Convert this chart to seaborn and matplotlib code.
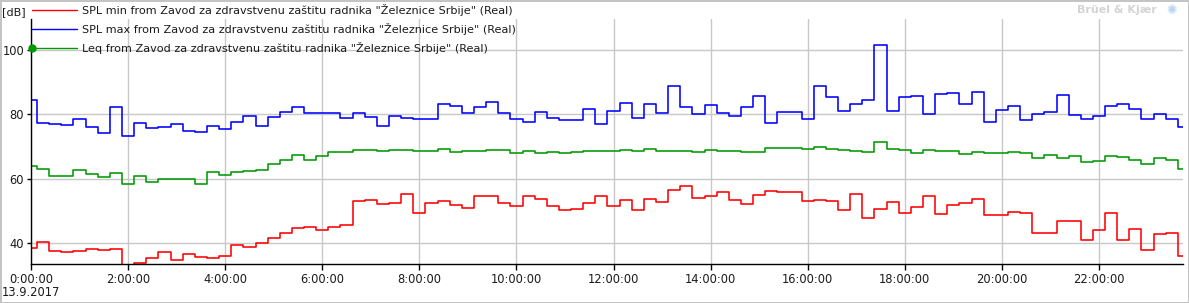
import numpy as np
import pandas as pd
import matplotlib
matplotlib.use("Agg")
import matplotlib.pyplot as plt
from matplotlib.lines import Line2D
from matplotlib.legend_handler import HandlerLine2D
import seaborn as sns

# ---------------- data (15-minute intervals, centred on the quarter hours) ----------------
hours = [i * 0.25 for i in range(96)]

spl_min = [38.5, 40.3, 37.5, 37.2, 37.5, 38.1, 37.8, 38.2, 32.0, 33.9,
           35.4, 37.2, 34.8, 36.6, 35.7, 35.4, 36.0, 39.4, 38.8, 40.0,
           41.8, 43.1, 44.9, 45.2, 44.3, 45.2, 45.8, 53.0, 53.4, 52.3,
           52.6, 55.4, 49.5, 52.6, 53.2, 52.0, 51.1, 54.6, 54.6, 52.6,
           51.7, 54.6, 53.9, 51.5, 50.5, 50.8, 52.6, 54.8, 51.5, 53.5,
           50.2, 53.9, 52.9, 56.6, 57.9, 54.2, 54.8, 56.0, 53.5, 52.3,
           55.1, 56.3, 55.8, 56.0, 53.2, 53.5, 53.2, 50.2, 55.4, 48.0,
           50.8, 52.9, 49.5, 51.4, 54.8, 49.2, 52.0, 52.6, 53.9, 48.9,
           48.9, 49.8, 49.5, 43.1, 43.1, 46.8, 46.8, 41.2, 44.3, 49.5,
           41.2, 44.6, 37.8, 42.8, 43.1, 36.0]

spl_max = [84.6, 77.2, 76.9, 76.6, 78.5, 76.0, 74.3, 82.2, 73.2, 77.2,
           75.7, 76.0, 76.9, 74.9, 74.5, 76.3, 75.4, 77.8, 79.4, 76.3,
           79.1, 80.6, 82.2, 80.3, 80.3, 80.3, 78.8, 80.3, 79.1, 76.3,
           79.4, 78.8, 78.5, 78.5, 83.1, 82.5, 80.3, 82.2, 83.7, 80.3,
           78.5, 77.5, 80.9, 78.8, 78.2, 78.2, 81.8, 76.9, 81.2, 83.4,
           78.8, 83.1, 80.3, 88.9, 82.2, 80.0, 82.8, 80.3, 79.4, 82.2,
           85.8, 77.2, 80.9, 80.9, 78.5, 88.9, 85.5, 81.2, 83.1, 84.6,
           101.5, 81.2, 85.5, 85.8, 80.0, 86.2, 86.5, 83.1, 87.1, 77.5,
           81.5, 82.5, 78.2, 80.0, 80.6, 86.0, 79.7, 78.5, 79.4, 82.5,
           83.1, 81.8, 78.5, 80.0, 78.5, 76.0]

leq = [64.0, 63.1, 60.9, 60.9, 62.8, 61.5, 60.6, 61.8, 58.5, 60.9,
       59.1, 60.0, 60.0, 60.0, 58.5, 62.1, 61.2, 62.1, 62.5, 62.8,
       64.6, 65.8, 67.4, 65.8, 67.1, 68.3, 68.3, 68.9, 68.9, 68.6,
       68.9, 69.0, 68.7, 68.7, 69.2, 68.4, 68.7, 68.7, 69.0, 69.0,
       68.1, 68.7, 68.1, 68.4, 68.1, 68.4, 68.7, 68.7, 68.7, 69.0,
       68.7, 69.2, 68.7, 68.7, 68.7, 68.4, 69.0, 68.7, 68.7, 68.4,
       68.4, 69.5, 69.5, 69.5, 69.2, 69.8, 69.2, 68.9, 68.6, 68.3,
       71.4, 69.2, 68.9, 68.0, 68.9, 68.6, 68.6, 67.7, 68.3, 68.0,
       68.0, 68.3, 68.0, 66.4, 67.4, 66.4, 67.1, 65.2, 65.5, 67.1,
       66.8, 65.9, 64.6, 66.4, 66.0, 63.1]

series_names = [
    'SPL min from Zavod za zdravstvenu zaštitu radnika "Železnice Srbije" (Real)',
    'SPL max from Zavod za zdravstvenu zaštitu radnika "Železnice Srbije" (Real)',
    'Leq from Zavod za zdravstvenu zaštitu radnika "Železnice Srbije" (Real)',
]
series_colors = ["#ff0000", "#0000ff", "#009900"]

x_ticks = [0, 2, 4, 6, 8, 10, 12, 14, 16, 18, 20, 22]
x_tick_labels = ["0:00:00", "2:00:00", "4:00:00", "6:00:00", "8:00:00", "10:00:00",
                 "12:00:00", "14:00:00", "16:00:00", "18:00:00", "20:00:00", "22:00:00"]
y_ticks = [40, 60, 80, 100]
date_label = "13.9.2017"
unit_label = "[dB]"
brand_label = "Brüel & Kjær"

# ---------------- long-form table ----------------
df = pd.concat([
    pd.DataFrame({"hours": hours, "dB": vals, "series": name})
    for name, vals in zip(series_names, [spl_min, spl_max, leq])
], ignore_index=True)

sns.set_style("white")
plt.rcParams["font.family"] = ["DejaVu Sans"]
plt.rcParams["font.size"] = 8

W, H = 1189, 303
fig = plt.figure(figsize=(W / 100, H / 100), dpi=100, facecolor="white",
                 edgecolor="#c4c4c4", linewidth=1.0)
ax = fig.add_axes([31 / W, 39 / H, 1152 / W, 245 / H])

sns.lineplot(data=df, x="hours", y="dB", hue="series", hue_order=series_names,
             palette=dict(zip(series_names, series_colors)), estimator=None,
             drawstyle="steps-mid", linewidth=1.15, legend=False, ax=ax)

ax.set_xlim(0, 23.73)
ax.set_ylim(33.6, 109.6)
ax.set_xlabel("")
ax.set_ylabel("")

ax.set_xticks(x_ticks)
ax.set_xticklabels(x_tick_labels)
ax.set_xticks(np.arange(0, 24, 1 / 3), minor=True)
ax.set_yticks(y_ticks)
ax.set_yticklabels([str(v) for v in y_ticks])

ax.grid(True, which="major", color="#c8c8c8", linewidth=1.0)
ax.set_axisbelow(True)
for s in ["top", "right"]:
    ax.spines[s].set_visible(False)
for s in ["left", "bottom"]:
    ax.spines[s].set_color("black")
    ax.spines[s].set_linewidth(1.0)

ax.tick_params(axis="x", which="major", direction="out", length=4, width=1,
               color="black", pad=2.5, labelsize=8.3, labelcolor="#1a1a1a")
ax.tick_params(axis="x", which="minor", direction="out", length=2.5, width=1,
               color="black")
ax.tick_params(axis="y", which="major", direction="out", length=3, width=1,
               color="black", pad=2, labelsize=8.3, labelcolor="#1a1a1a")
ax.tick_params(bottom=True, left=True)


class StartMarkerHandler(HandlerLine2D):
    def create_artists(self, *args, **kwargs):
        artists = super().create_artists(*args, **kwargs)
        for a in artists:
            if isinstance(a, Line2D) and a.get_marker() not in (None, "None", ""):
                a.set_markevery([0])
        return artists


handles = [Line2D([], [], color=series_colors[0], linewidth=1.0),
           Line2D([], [], color=series_colors[1], linewidth=1.0),
           Line2D([], [], color=series_colors[2], linewidth=1.0,
                  marker="o", markersize=5)]
leg = ax.legend(handles, series_names, loc="upper left",
                bbox_to_anchor=(32 / W, 1 - 4 / H), bbox_transform=fig.transFigure,
                frameon=False, borderpad=0, borderaxespad=0, handlelength=4.0,
                handletextpad=0.45, labelspacing=0.62, fontsize=8.1,
                handler_map={handles[2]: StartMarkerHandler(numpoints=1)})
for t in leg.get_texts():
    t.set_color("#1a1a1a")

fig.text(2 / W, 1 - 12 / H, unit_label, ha="left", va="center", fontsize=8,
         color="#1a1a1a")
fig.text(2 / W, 1 - 293 / H, date_label, ha="left", va="center", fontsize=8.3,
         color="#1a1a1a")
fig.text(1157 / W, 1 - 10 / H, brand_label, ha="right", va="center", fontsize=8,
         fontweight="bold", color="#d4d4d4")
fig.text(1172 / W, 1 - 10 / H, "✺", ha="center", va="center", fontsize=9,
         color="#b8d4f0")

fig.savefig("out.png", dpi=100, facecolor="white", edgecolor="#c4c4c4")
